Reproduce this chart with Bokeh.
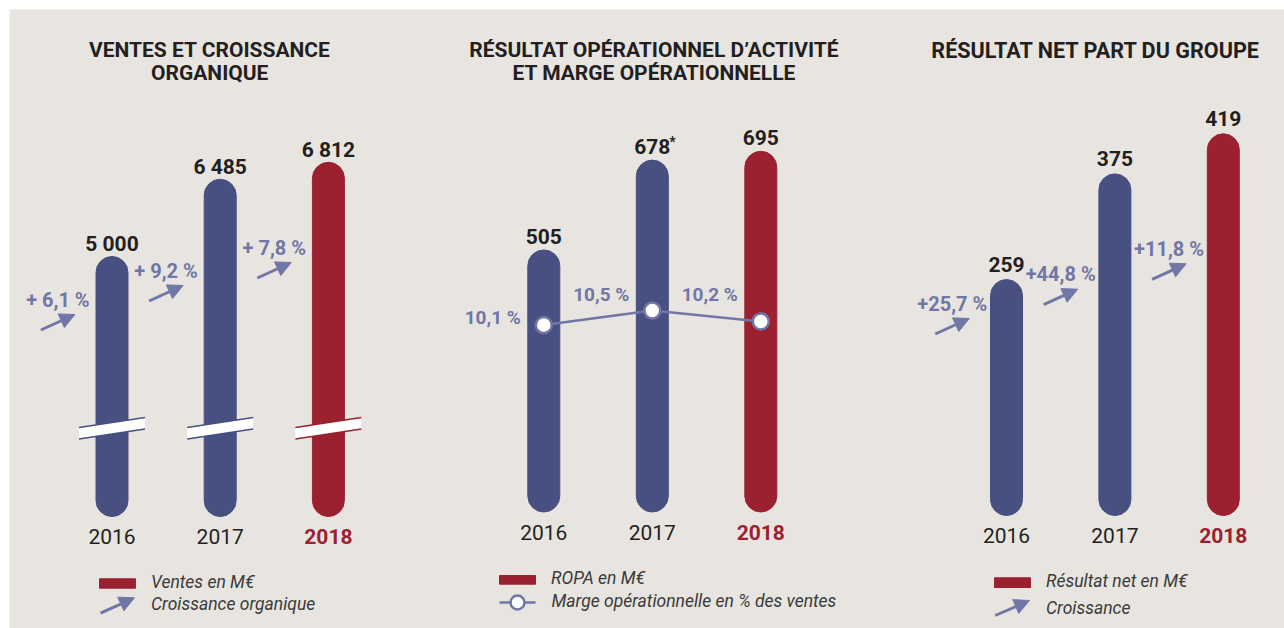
from bokeh.plotting import figure
from bokeh.models import Range1d, Arrow, NormalHead, ColumnDataSource
from bokeh.core.properties import value
from bokeh.embed import file_html
from bokeh.resources import INLINE

# ---------------- DATA ----------------
years = ["2016", "2017", "2018"]
ventes = [5000, 6485, 6812]              # Ventes en M€
croissance_org = [6.1, 9.2, 7.8]          # Croissance organique, %
ropa = [505, 678, 695]                   # ROPA en M€
ropa_notes = ["", "*", ""]
marge = [10.1, 10.5, 10.2]               # Marge opérationnelle, % des ventes
resultat_net = [259, 375, 419]           # Résultat net part du groupe, M€
croissance_rn = [25.7, 44.8, 11.8]       # Croissance, %

# ---------------- STYLE ----------------
NAVY = "#475080"
RED = "#9b2131"
ACCENT = "#7077a6"
BG = "#e8e5e0"
INK = "#231f20"
LEG = "#3a3a3a"
FONT = value("Roboto")
LEG_SIZE = "17.5px"
OX, OY = 9, 9            # white page margin around the panel
W, H = 1284 - OX, 628 - OY
bar_colors = [NAVY, NAVY, RED]
year_styles = ["normal", "normal", "bold"]
year_colors = [INK, INK, RED]

p = figure(width=W, height=H, x_range=Range1d(0, 1), y_range=Range1d(0, 1),
           output_backend="svg", toolbar_location=None,
           x_axis_location=None, y_axis_location=None, min_border=0,
           background_fill_color=BG, border_fill_color=BG, outline_line_color=None,
           margin=(OY, 0, 0, OX))
p.grid.visible = False
p.extra_x_ranges = {}
p.extra_y_ranges = {}


def fr_num(v):
    return f"{v:,.0f}".replace(",", " ")


def fr_pct(v, plus=False, space=True):
    s = f"{v:.1f}".replace(".", ",") + " %"
    if plus:
        s = ("+ " if space else "+") + s
    return s


class Panel:
    """One chart panel with its own x (year index) and y (value) scales."""

    def __init__(self, name, bar0, U, base, s):
        self.name, self.U, self.base, self.s = name, U, base, s
        self.xs = -(bar0 - OX) / U
        y_end = (base - OY) / s
        xr = dict(p.extra_x_ranges)
        yr = dict(p.extra_y_ranges)
        xr[name] = Range1d(self.xs, self.xs + W / U)
        yr[name] = Range1d(y_end - H / s, y_end)
        p.extra_x_ranges = xr
        p.extra_y_ranges = yr
        self.kw = dict(x_range_name=name, y_range_name=name)

    def X(self, px):
        return self.xs + (px - OX) / self.U

    def Y(self, py):
        return (self.base - py) / self.s

    def dX(self, dpx):
        return dpx / self.U

    def dY(self, dpy):
        return -dpy / self.s

    def text(self, x, y, t, size, style="normal", color=INK, align="center"):
        p.text(x=x, y=y, text=t, text_font=FONT, text_font_size=size,
               text_font_style=style, text_color=color, text_align=align,
               text_baseline="middle", **self.kw)

    def title(self, lines, cx, centers, size="21px"):
        self.text([self.X(cx)] * len(lines), [self.Y(y) for y in centers], lines, size, "bold")

    def bars(self, vals, labels, gap):
        idx = list(range(len(vals)))
        p.vbar(x=idx, top=vals, bottom=0, width=self.dX(32), color=bar_colors,
               border_radius=16, **self.kw)
        self.text(idx, [v - self.dY(gap) for v in vals], labels, "21px", "bold")

    def years(self, center_py):
        src = ColumnDataSource(dict(x=list(range(3)), y=[self.Y(center_py)] * 3,
                                    t=years, st=year_styles, c=year_colors))
        p.text(x="x", y="y", text="t", source=src, text_font=FONT,
               text_font_size="21px", text_font_style="st", text_color="c",
               text_align="center", text_baseline="middle", **self.kw)

    def arrow(self, x1, y1, x2, y2):
        p.add_layout(Arrow(end=NormalHead(size=15, fill_color=ACCENT, line_color=ACCENT,
                                          line_width=1),
                           x_start=x1, y_start=y1, x_end=x2, y_end=y2,
                           line_color=ACCENT, line_width=3, **self.kw))

    def growth(self, labels, label_py):
        for i, (lab, py) in enumerate(zip(labels, label_py)):
            cx = i - 0.5
            cy = self.Y(py)
            self.text([cx], [cy], [lab], "20px", "bold", ACCENT)
            self.arrow(cx - self.dX(17), cy + self.dY(30.5), cx + self.dX(17), cy + self.dY(15))

    def legend_rect(self, x1, x2, y1, y2, label, center_py):
        p.quad(left=[self.X(x1)], right=[self.X(x2)], bottom=[self.Y(y2)], top=[self.Y(y1)],
               color=RED, **self.kw)
        self.text([self.X(x2 + 15.5)], [self.Y(center_py)], [label], LEG_SIZE, "italic", LEG,
                  align="left")

    def legend_arrow(self, x1, y1, x2, y2, label, center_py):
        self.arrow(self.X(x1), self.Y(y1), self.X(x2), self.Y(y2))
        self.text([self.X(x2 + 16.5)], [self.Y(center_py)], [label], LEG_SIZE, "italic", LEG,
                  align="left")


# ---------------- PANEL 1 : ventes ----------------
P1 = Panel("p1", 111.5, 108.2, 516, 0.052)
P1.title(["VENTES ET CROISSANCE", "ORGANIQUE"], 209.2, [49, 72.7])
P1.bars(ventes, [fr_num(v) for v in ventes], 12.6)
# axis-break marks across the bars
for i, c in enumerate(bar_colors):
    xl, xr = i - P1.dX(33), i + P1.dX(33)
    ytl, ybl, ytr, ybr = P1.Y(427.0), P1.Y(438.5), P1.Y(417.0), P1.Y(428.5)
    p.patch(x=[xl, xr, xr, xl], y=[ytl, ytr, ybr, ybl], fill_color="white", line_color=None,
            **P1.kw)
    p.segment(x0=[xl, xl], y0=[ytl, ybl], x1=[xr, xr], y1=[ytr, ybr], line_color=c,
              line_width=1.5, **P1.kw)
P1.growth([fr_pct(v, plus=True) for v in croissance_org], [299, 270, 247])
P1.years(535.5)
P1.legend_rect(99, 135, 578.3, 587.7, "Ventes en M€", 581)
P1.legend_arrow(100, 612.7, 134, 597.3, "Croissance organique", 603.5)

# ---------------- PANEL 2 : ROPA + marge ----------------
P2 = Panel("p2", 543.3, 108.5, 511.5, 0.519)
P2.title(["RÉSULTAT OPÉRATIONNEL D’ACTIVITÉ", "ET MARGE OPÉRATIONNELLE"], 653.7, [49, 72.7])
P2.bars(ropa, [str(v) for v in ropa], 13.4)
for i, (v, n) in enumerate(zip(ropa, ropa_notes)):
    if n:
        P2.text([i + P2.dX(17)], [v - P2.dY(18.5)], [n], "14px", "bold", INK, align="left")
# margin line on its own percentage scale
PCT_REF, PCT_PY, PCT_PX = 10.1, 324.5, 36.0
pct_end = PCT_REF + (PCT_PY - OY) / PCT_PX
yr = dict(p.extra_y_ranges)
yr["pct"] = Range1d(pct_end - H / PCT_PX, pct_end)
p.extra_y_ranges = yr
pkw = dict(x_range_name="p2", y_range_name="pct")
p.line(x=[0, 1, 2], y=marge, line_color=ACCENT, line_width=2.5, **pkw)
p.scatter(x=[0, 1, 2], y=marge, size=16, fill_color="white", line_color=ACCENT,
          line_width=2.5, **pkw)
marge_label_py = [317, 294, 294]
p.text(x=[i - P2.dX(23) for i in range(3)],
       y=[PCT_REF + (PCT_PY - py) / PCT_PX for py in marge_label_py],
       text=[fr_pct(v) for v in marge], text_font=FONT,
       text_font_size="19px", text_font_style="bold", text_color=ACCENT,
       text_align="right", text_baseline="middle", **pkw)
P2.years(532)
P2.legend_rect(499, 535, 575, 583.7, "ROPA en M€", 577.5)
lx1, lx2, ly = P2.X(499), P2.X(535), P2.Y(602)
p.line(x=[lx1, lx2], y=[ly, ly], line_color=ACCENT, line_width=2.5, **P2.kw)
p.scatter(x=[(lx1 + lx2) / 2], y=[ly], size=14, fill_color="white", line_color=ACCENT,
          line_width=2.5, **P2.kw)
P2.text([P2.X(551)], [P2.Y(600.5)], ["Marge opérationnelle en % des ventes"], LEG_SIZE,
        "italic", LEG, align="left")

# ---------------- PANEL 3 : résultat net ----------------
P3 = Panel("p3", 1006, 108.4, 515, 0.911)
P3.title(["RÉSULTAT NET PART DU GROUPE"], 1095.5, [49.5], "21.6px")
P3.bars(resultat_net, [str(v) for v in resultat_net], 15.2)
P3.growth([fr_pct(v, plus=True, space=False) for v in croissance_rn], [303, 273.7, 248.3])
P3.years(534.5)
P3.legend_rect(994, 1030, 577.3, 587, "Résultat net en M€", 580.5)
P3.legend_arrow(994.7, 615, 1029, 600, "Croissance", 607)

open("out.html", "w").write(file_html(p, INLINE))
